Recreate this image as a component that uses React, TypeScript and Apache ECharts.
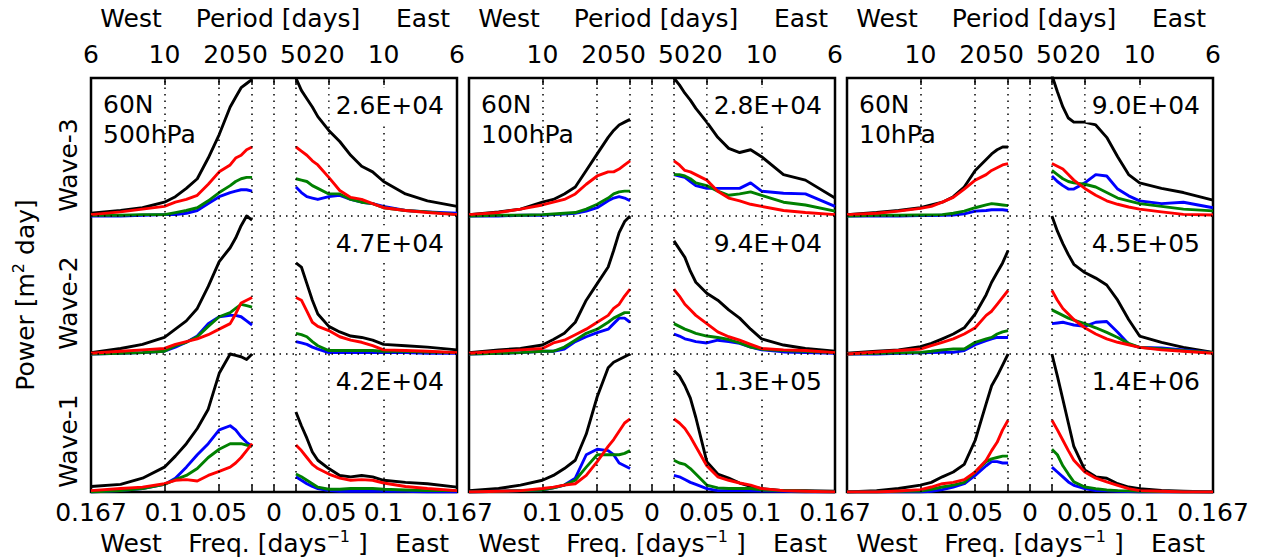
import React, { useEffect, useRef } from "react";
import * as echarts from "echarts";

// Frequencies (days^-1) at which spectra are sampled; west side uses negatives
const FREQ = [0.02, 0.025, 0.03, 0.035, 0.04, 0.05, 0.06, 0.07, 0.08, 0.09, 0.1, 0.12, 0.14, 0.167];

// Series order in every block: total (black), red, green, blue  — normalised power
const P500_W3_WEST = [
  [0.99, 0.96, 0.93, 0.86, 0.79, 0.59, 0.42, 0.27, 0.2, 0.14, 0.1, 0.06, 0.04, 0.02],
  [0.5, 0.48, 0.44, 0.42, 0.37, 0.32, 0.23, 0.15, 0.12, 0.1, 0.07, 0.05, 0.03, 0.01],
  [0.28, 0.28, 0.27, 0.25, 0.22, 0.17, 0.11, 0.06, 0.04, 0.025, 0.01, 0.01, 0.005, 0.005],
  [0.18, 0.19, 0.19, 0.18, 0.17, 0.14, 0.09, 0.04, 0.02, 0.01, 0.01, 0.005, 0, 0],
];
const P500_W3_EAST = [
  [1.0, 0.91, 0.85, 0.79, 0.72, 0.62, 0.54, 0.44, 0.36, 0.32, 0.25, 0.16, 0.11, 0.07],
  [0.5, 0.47, 0.44, 0.4, 0.37, 0.28, 0.185, 0.135, 0.12, 0.09, 0.06, 0.04, 0.025, 0.01],
  [0.27, 0.26, 0.25, 0.22, 0.2, 0.16, 0.16, 0.12, 0.1, 0.09, 0.06, 0.04, 0.03, 0.01],
  [0.21, 0.17, 0.14, 0.13, 0.12, 0.14, 0.15, 0.12, 0.1, 0.09, 0.07, 0.04, 0.03, 0.02],
];
const P500_W2_WEST = [
  [0.97, 1.0, 0.93, 0.84, 0.77, 0.67, 0.49, 0.33, 0.24, 0.18, 0.12, 0.07, 0.04, 0.01],
  [0.41, 0.39, 0.37, 0.29, 0.22, 0.18, 0.14, 0.11, 0.09, 0.07, 0.04, 0.03, 0.02, 0.005],
  [0.34, 0.35, 0.36, 0.33, 0.3, 0.27, 0.2, 0.125, 0.085, 0.06, 0.02, 0.01, 0.005, 0],
  [0.21, 0.24, 0.27, 0.28, 0.28, 0.27, 0.22, 0.13, 0.085, 0.05, 0.02, 0.01, 0.005, 0],
];
const P500_W2_EAST = [
  [0.66, 0.63, 0.51, 0.39, 0.29, 0.2, 0.16, 0.13, 0.12, 0.1, 0.07, 0.06, 0.05, 0.03],
  [0.41, 0.39, 0.31, 0.23, 0.2, 0.17, 0.125, 0.1, 0.085, 0.06, 0.03, 0.025, 0.02, 0.01],
  [0.15, 0.14, 0.125, 0.09, 0.06, 0.025, 0.025, 0.025, 0.025, 0.025, 0.02, 0.02, 0.015, 0.01],
  [0.09, 0.08, 0.07, 0.05, 0.035, 0.01, 0.01, 0.01, 0.01, 0.01, 0.01, 0.01, 0.005, 0.005],
];
const P500_W1_WEST = [
  [1.0, 0.96, 0.98, 0.99, 1.0, 0.86, 0.6, 0.46, 0.35, 0.26, 0.18, 0.1, 0.055, 0.04],
  [0.35, 0.3, 0.25, 0.21, 0.18, 0.15, 0.12, 0.08, 0.09, 0.085, 0.06, 0.035, 0.025, 0.01],
  [0.33, 0.34, 0.35, 0.35, 0.35, 0.31, 0.25, 0.17, 0.12, 0.09, 0.055, 0.025, 0.01, 0],
  [0.33, 0.36, 0.4, 0.45, 0.48, 0.45, 0.35, 0.27, 0.18, 0.1, 0.055, 0.025, 0.01, 0],
];
const P500_W1_EAST = [
  [0.58, 0.48, 0.39, 0.29, 0.23, 0.17, 0.12, 0.11, 0.12, 0.11, 0.085, 0.07, 0.06, 0.035],
  [0.34, 0.3, 0.25, 0.2, 0.17, 0.13, 0.1, 0.085, 0.09, 0.085, 0.065, 0.04, 0.025, 0.01],
  [0.13, 0.11, 0.085, 0.06, 0.035, 0.02, 0.02, 0.025, 0.025, 0.025, 0.02, 0.015, 0.01, 0.01],
  [0.11, 0.085, 0.06, 0.04, 0.025, 0.01, 0.005, 0.005, 0.005, 0.005, 0.005, 0.005, 0, 0],
];

const P100_W3_WEST = [
  [0.7, 0.68, 0.66, 0.62, 0.57, 0.45, 0.33, 0.21, 0.16, 0.12, 0.1, 0.05, 0.03, 0.01],
  [0.4, 0.37, 0.34, 0.32, 0.32, 0.29, 0.23, 0.16, 0.12, 0.1, 0.08, 0.05, 0.025, 0.01],
  [0.18, 0.18, 0.175, 0.16, 0.13, 0.085, 0.05, 0.025, 0.02, 0.015, 0.01, 0.005, 0.005, 0],
  [0.11, 0.13, 0.14, 0.13, 0.11, 0.06, 0.035, 0.02, 0.015, 0.01, 0.005, 0.005, 0, 0],
];
const P100_W3_EAST = [
  [1.0, 0.95, 0.89, 0.84, 0.78, 0.68, 0.57, 0.49, 0.46, 0.48, 0.43, 0.3, 0.26, 0.13],
  [0.4, 0.37, 0.33, 0.32, 0.3, 0.26, 0.18, 0.13, 0.11, 0.085, 0.07, 0.04, 0.025, 0.01],
  [0.3, 0.3, 0.29, 0.27, 0.24, 0.22, 0.18, 0.15, 0.16, 0.175, 0.15, 0.1, 0.08, 0.035],
  [0.3, 0.29, 0.28, 0.25, 0.22, 0.2, 0.2, 0.2, 0.2, 0.24, 0.18, 0.165, 0.16, 0.07],
];
const P100_W2_WEST = [
  [1.0, 0.96, 0.88, 0.75, 0.63, 0.51, 0.39, 0.23, 0.15, 0.105, 0.065, 0.04, 0.03, 0.01],
  [0.47, 0.42, 0.36, 0.33, 0.28, 0.23, 0.18, 0.14, 0.1, 0.08, 0.04, 0.03, 0.02, 0.005],
  [0.3, 0.3, 0.28, 0.26, 0.23, 0.18, 0.15, 0.1, 0.05, 0.02, 0.02, 0.01, 0.005, 0],
  [0.23, 0.26, 0.26, 0.22, 0.18, 0.155, 0.125, 0.09, 0.035, 0.02, 0.02, 0.01, 0.005, 0],
];
const P100_W2_EAST = [
  [0.82, 0.76, 0.7, 0.6, 0.52, 0.44, 0.39, 0.32, 0.26, 0.18, 0.11, 0.065, 0.04, 0.02],
  [0.47, 0.42, 0.36, 0.32, 0.28, 0.22, 0.16, 0.125, 0.1, 0.07, 0.04, 0.03, 0.025, 0.01],
  [0.22, 0.2, 0.18, 0.165, 0.15, 0.13, 0.12, 0.105, 0.08, 0.05, 0.035, 0.025, 0.02, 0.01],
  [0.145, 0.13, 0.11, 0.1, 0.09, 0.08, 0.1, 0.09, 0.077, 0.05, 0.03, 0.015, 0.01, 0.005],
];
const P100_W1_WEST = [
  [1.0, 0.98, 0.96, 0.94, 0.9, 0.69, 0.42, 0.23, 0.17, 0.12, 0.085, 0.05, 0.025, 0.01],
  [0.53, 0.5, 0.44, 0.38, 0.33, 0.22, 0.12, 0.06, 0.05, 0.035, 0.025, 0.01, 0.005, 0],
  [0.3, 0.28, 0.27, 0.27, 0.27, 0.27, 0.18, 0.085, 0.05, 0.03, 0.015, 0.01, 0.005, 0],
  [0.17, 0.19, 0.21, 0.27, 0.3, 0.31, 0.27, 0.1, 0.05, 0.03, 0.015, 0.01, 0.005, 0],
];
const P100_W1_EAST = [
  [0.88, 0.84, 0.77, 0.68, 0.54, 0.22, 0.13, 0.1, 0.065, 0.04, 0.025, 0.01, 0.01, 0.005],
  [0.53, 0.5, 0.46, 0.4, 0.33, 0.19, 0.11, 0.085, 0.065, 0.05, 0.025, 0.01, 0.005, 0],
  [0.23, 0.21, 0.2, 0.17, 0.13, 0.05, 0.03, 0.025, 0.025, 0.025, 0.015, 0.01, 0.005, 0],
  [0.12, 0.11, 0.09, 0.07, 0.055, 0.025, 0.01, 0.01, 0.01, 0.008, 0.007, 0.005, 0, 0],
];

const P10_W3_WEST = [
  [0.5, 0.5, 0.48, 0.45, 0.41, 0.33, 0.21, 0.14, 0.1, 0.08, 0.06, 0.04, 0.025, 0.01],
  [0.38, 0.37, 0.35, 0.33, 0.3, 0.26, 0.195, 0.135, 0.1, 0.07, 0.055, 0.035, 0.02, 0.01],
  [0.075, 0.08, 0.085, 0.09, 0.08, 0.06, 0.035, 0.02, 0.01, 0.008, 0.007, 0.005, 0.005, 0],
  [0.04, 0.045, 0.045, 0.045, 0.04, 0.035, 0.015, 0.007, 0.005, 0.004, 0.003, 0, 0, 0],
];
const P10_W3_EAST = [
  [1.02, 0.9, 0.79, 0.71, 0.68, 0.68, 0.66, 0.57, 0.43, 0.3, 0.24, 0.2, 0.17, 0.115],
  [0.38, 0.36, 0.34, 0.3, 0.26, 0.2, 0.15, 0.11, 0.085, 0.065, 0.05, 0.03, 0.012, 0.007],
  [0.33, 0.3, 0.27, 0.25, 0.24, 0.23, 0.21, 0.17, 0.13, 0.11, 0.09, 0.07, 0.05, 0.037],
  [0.29, 0.25, 0.22, 0.195, 0.195, 0.24, 0.3, 0.29, 0.195, 0.146, 0.11, 0.09, 0.1, 0.06],
];
const P10_W2_WEST = [
  [0.75, 0.66, 0.59, 0.52, 0.43, 0.29, 0.19, 0.145, 0.11, 0.077, 0.053, 0.03, 0.02, 0.005],
  [0.46, 0.41, 0.36, 0.31, 0.28, 0.19, 0.145, 0.11, 0.085, 0.06, 0.036, 0.025, 0.015, 0],
  [0.17, 0.16, 0.145, 0.12, 0.11, 0.085, 0.036, 0.036, 0.03, 0.02, 0.012, 0.008, 0.005, 0],
  [0.12, 0.12, 0.12, 0.11, 0.096, 0.067, 0.025, 0.012, 0.012, 0.01, 0.008, 0.005, 0, 0],
];
const P10_W2_EAST = [
  [1.0, 0.89, 0.8, 0.72, 0.65, 0.59, 0.55, 0.5, 0.39, 0.25, 0.13, 0.084, 0.048, 0.012],
  [0.46, 0.39, 0.33, 0.29, 0.25, 0.19, 0.145, 0.11, 0.085, 0.067, 0.048, 0.03, 0.02, 0.005],
  [0.32, 0.3, 0.28, 0.26, 0.245, 0.22, 0.19, 0.157, 0.12, 0.077, 0.048, 0.036, 0.024, 0.01],
  [0.22, 0.225, 0.23, 0.22, 0.21, 0.2, 0.23, 0.235, 0.157, 0.072, 0.048, 0.043, 0.03, 0.01],
];
const P10_W1_WEST = [
  [1.0, 0.92, 0.84, 0.77, 0.64, 0.375, 0.2, 0.145, 0.11, 0.07, 0.05, 0.025, 0.01, 0],
  [0.52, 0.45, 0.36, 0.3, 0.23, 0.145, 0.09, 0.07, 0.06, 0.036, 0.017, 0.007, 0, 0],
  [0.26, 0.26, 0.25, 0.24, 0.22, 0.145, 0.07, 0.05, 0.036, 0.02, 0.007, 0.005, 0, 0],
  [0.21, 0.21, 0.22, 0.22, 0.19, 0.12, 0.06, 0.036, 0.017, 0.005, 0, 0, 0, 0],
];
const P10_W1_EAST = [
  [1.0, 0.84, 0.67, 0.5, 0.33, 0.16, 0.11, 0.1, 0.06, 0.036, 0.024, 0.012, 0.005, 0],
  [0.52, 0.45, 0.375, 0.3, 0.23, 0.145, 0.1, 0.073, 0.048, 0.024, 0.01, 0.005, 0, 0],
  [0.31, 0.27, 0.19, 0.13, 0.073, 0.036, 0.024, 0.015, 0.01, 0.008, 0.005, 0.003, 0, 0],
  [0.18, 0.145, 0.11, 0.073, 0.048, 0.024, 0.01, 0.008, 0.005, 0.003, 0, 0, 0, 0],
];

// Panels (columns) -> waves (Wave-1, Wave-2, Wave-3) -> [west, east]
const PANEL_DATA = [
  [[P500_W1_WEST, P500_W1_EAST], [P500_W2_WEST, P500_W2_EAST], [P500_W3_WEST, P500_W3_EAST]],
  [[P100_W1_WEST, P100_W1_EAST], [P100_W2_WEST, P100_W2_EAST], [P100_W3_WEST, P100_W3_EAST]],
  [[P10_W1_WEST, P10_W1_EAST], [P10_W2_WEST, P10_W2_EAST], [P10_W3_WEST, P10_W3_EAST]],
];
const PANEL_LEVELS = ["500hPa", "100hPa", "10hPa"];
const PANEL_LAT = "60N";
// maximum power per wave (Wave-1, Wave-2, Wave-3)
const PANEL_MAX = [
  ["4.2E+04", "4.7E+04", "2.6E+04"],
  ["1.3E+05", "9.4E+04", "2.8E+04"],
  ["1.4E+06", "4.5E+05", "9.0E+04"],
];
const WAVE_NAMES = ["Wave-1", "Wave-2", "Wave-3"];
const SERIES_COLORS = ["#000000", "#ff0000", "#008000", "#0000ff"];
const DRAW_ORDER = [0, 3, 2, 1];

const TICK_FREQ = [-0.167, -0.1, -0.05, -0.02, 0, 0.02, 0.05, 0.1, 0.167];
const DOTTED_FREQ = [-0.1, -0.05, -0.02, 0, 0.02, 0.05, 0.1];
const BOTTOM_TICK_VALUES = [-0.167, -0.1, -0.05, 0, 0.05, 0.1, 0.167];
const BOTTOM_TICK_LABELS = ["0.167", "0.1", "0.05", "0", "0.05", "0.1", "0.167"];
const TOP_TICK_VALUES = [-0.167, -0.1, -0.05, -0.02, 0.02, 0.05, 0.1, 0.167];
const TOP_TICK_LABELS = ["6", "10", "20", "50", "50", "20", "10", "6"];

const FONT = "DejaVu Sans";
const FS = 25;
const GRID_LEFT = [91, 469, 847];
const GRID_TOP = 78;
const GRID_W = 366;
const GRID_H = 414;
const ROW_H = GRID_H / 3;

function labelFrom(values: number[], labels: string[]) {
  return (v: number) => {
    let best = 0;
    for (let i = 0; i < values.length; i++) {
      if (Math.abs(values[i] - v) < Math.abs(values[best] - v)) best = i;
    }
    return labels[best];
  };
}

function buildOption() {
  const grid: any[] = [];
  const xAxis: any[] = [];
  const yAxis: any[] = [];
  const series: any[] = [];
  const graphic: any[] = [];

  GRID_LEFT.forEach((left, p) => {
    grid.push({
      left,
      top: GRID_TOP,
      width: GRID_W,
      height: GRID_H,
      show: true,
      borderColor: "#000",
      borderWidth: 2.5,
      backgroundColor: "#fff",
      containLabel: false,
      outerBoundsMode: "none",
    });
    const tickStyle = { color: "#000", width: 1.5 };
    xAxis.push({
      gridIndex: p,
      type: "value",
      position: "bottom",
      min: -0.167,
      max: 0.167,
      axisLine: { show: false },
      splitLine: { show: false },
      axisTick: { show: true, inside: true, length: 7, customValues: TICK_FREQ, lineStyle: tickStyle },
      axisLabel: {
        customValues: p === 0 ? BOTTOM_TICK_VALUES : BOTTOM_TICK_VALUES.slice(1),
        formatter: labelFrom(BOTTOM_TICK_VALUES, BOTTOM_TICK_LABELS),
        fontFamily: FONT,
        fontSize: FS,
        color: "#000",
        margin: 8,
        showMinLabel: true,
        showMaxLabel: true,
      },
    });
    xAxis.push({
      gridIndex: p,
      type: "value",
      position: "top",
      min: -0.167,
      max: 0.167,
      axisLine: { show: false },
      splitLine: { show: false },
      axisTick: { show: true, inside: true, length: 7, customValues: TICK_FREQ, lineStyle: tickStyle },
      axisLabel: {
        customValues: p === 0 ? TOP_TICK_VALUES : TOP_TICK_VALUES.slice(1),
        formatter: labelFrom(TOP_TICK_VALUES, TOP_TICK_LABELS),
        fontFamily: FONT,
        fontSize: FS,
        color: "#000",
        margin: 11,
        showMinLabel: true,
        showMaxLabel: true,
      },
    });
    yAxis.push({
      gridIndex: p,
      type: "value",
      min: 0,
      max: 3,
      interval: 1,
      axisLine: { show: false },
      axisTick: { show: false },
      axisLabel: { show: false },
      splitLine: { show: false },
    });

    // dotted guide lines
    series.push({
      type: "line",
      xAxisIndex: 2 * p,
      yAxisIndex: p,
      data: [],
      silent: true,
      z: 1,
      markLine: {
        silent: true,
        symbol: ["none", "none"],
        label: { show: false },
        lineStyle: { color: "#000", type: [1.5, 5], width: 1.5 },
        data: [...DOTTED_FREQ.map((x) => ({ xAxis: x })), { yAxis: 1 }, { yAxis: 2 }],
      },
    });

    PANEL_DATA[p].forEach((wave, w) => {
      const [west, east] = wave;
      DRAW_ORDER.forEach((c) => {
        const data: any[] = [];
        for (let k = FREQ.length - 1; k >= 0; k--) data.push([-FREQ[k], west[c][k] + w]);
        data.push([0, "-"]);
        for (let k = 0; k < FREQ.length; k++) data.push([FREQ[k], east[c][k] + w]);
        series.push({
          type: "line",
          xAxisIndex: 2 * p,
          yAxisIndex: p,
          data,
          symbol: "none",
          showSymbol: false,
          connectNulls: false,
          clip: true,
          z: 2,
          lineStyle: { color: SERIES_COLORS[c], width: 2.9, join: "round" },
          silent: true,
        });
      });
      // max power label
      graphic.push({
        type: "text",
        x: left + GRID_W - 11,
        y: GRID_TOP + (2 - w) * ROW_H + 27,
        z: 100,
        style: {
          text: PANEL_MAX[p][w],
          fontFamily: FONT,
          fontSize: FS,
          fill: "#000",
          align: "right",
          verticalAlign: "middle",
          backgroundColor: "#fff",
          padding: [4, 2, 6, 6],
        },
      });
    });

    // panel lat / level label
    graphic.push({
      type: "text",
      x: left + 12,
      y: GRID_TOP + 11,
      z: 100,
      style: {
        text: PANEL_LAT + "\n" + PANEL_LEVELS[p],
        fontFamily: FONT,
        fontSize: FS,
        lineHeight: 30,
        fill: "#000",
        align: "left",
        verticalAlign: "top",
      },
    });

    // top titles
    const topTitles: [string, number][] = [["West", 40], ["Period [days]", 187], ["East", 332]];
    topTitles.forEach(([t, dx]) => {
      graphic.push({
        type: "text",
        x: left + dx,
        y: 18,
        style: { text: t, fontFamily: FONT, fontSize: FS, fill: "#000", align: "center", verticalAlign: "middle" },
      });
    });
    // bottom titles
    graphic.push({
      type: "text",
      x: left + 40,
      y: 543,
      style: { text: "West", fontFamily: FONT, fontSize: FS, fill: "#000", align: "center", verticalAlign: "middle" },
    });
    graphic.push({
      type: "text",
      x: left + 331,
      y: 543,
      style: { text: "East", fontFamily: FONT, fontSize: FS, fill: "#000", align: "center", verticalAlign: "middle" },
    });
    graphic.push({
      type: "text",
      x: left + 187,
      y: 543,
      style: {
        text: "Freq. [days{sup|\u22121} ]",
        fontFamily: FONT,
        fontSize: FS,
        fill: "#000",
        align: "center",
        verticalAlign: "middle",
        lineHeight: 30,
        rich: {
          sup: { fontFamily: FONT, fontSize: 16, fill: "#000", verticalAlign: "top", lineHeight: 30, padding: [0, 0, 10, 0] },
        },
      },
    });
  });

  // left labels
  graphic.push({
    type: "text",
    x: 25,
    y: 295,
    rotation: Math.PI / 2,
    style: {
      text: "Power [m{sup|2} day]",
      fontFamily: FONT,
      fontSize: FS,
      fill: "#000",
      align: "center",
      verticalAlign: "middle",
      lineHeight: 30,
      rich: {
        sup: { fontFamily: FONT, fontSize: 16, fill: "#000", verticalAlign: "top", lineHeight: 30, padding: [0, 0, 10, 0] },
      },
    },
  });
  WAVE_NAMES.forEach((name, w) => {
    graphic.push({
      type: "text",
      x: 68,
      y: GRID_TOP + (2 - w) * ROW_H + ROW_H / 2 + 18,
      rotation: Math.PI / 2,
      style: { text: name, fontFamily: FONT, fontSize: FS, fill: "#000", align: "center", verticalAlign: "middle" },
    });
  });

  return {
    animation: false,
    backgroundColor: "#fff",
    textStyle: { fontFamily: FONT },
    grid,
    xAxis,
    yAxis,
    series,
    graphic: { elements: graphic },
  };
}

export default function App() {
  const ref = useRef<HTMLDivElement>(null);
  useEffect(() => {
    const chart = echarts.init(ref.current!, null, { renderer: "svg" });
    chart.setOption(buildOption() as any);
    return () => chart.dispose();
  }, []);
  return (
    <div
      ref={ref}
      style={{ position: "fixed", left: 0, top: 0, width: 1265, height: 560, background: "#fff" }}
    />
  );
}
